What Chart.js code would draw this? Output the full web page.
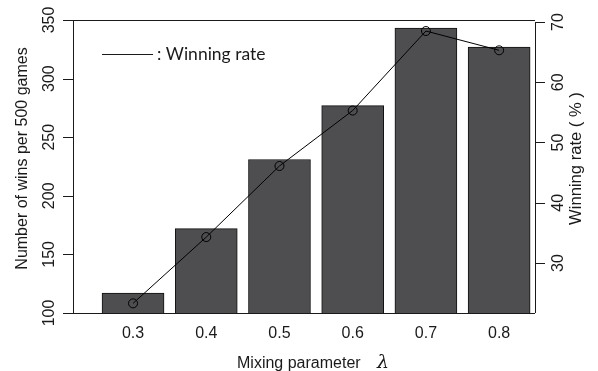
<!DOCTYPE html>
<html>
<head>
<meta charset="utf-8">
<script src="https://cdn.jsdelivr.net/npm/chart.js@4/dist/chart.umd.min.js"></script>
<style>
  html, body { margin: 0; padding: 0; background: #fff; }
  #wrap { width: 598px; height: 371px; }
</style>
</head>
<body>
<div id="wrap"><canvas id="chart" width="598" height="371"></canvas></div>
<script>
// valores
const lambdas = [0.3, 0.4, 0.5, 0.6, 0.7, 0.8];
const wins = [117, 172, 231, 277, 343, 327];
const winRate = [23.3, 34.3, 46.1, 55.3, 68.5, 65.3];
const leftTicks = [100, 150, 200, 250, 300, 350];
const rightTicks = [30, 40, 50, 60, 70];

const tickFont = '16px "Liberation Sans", Arial, sans-serif';
const ink = '#1a1a1a';

// eixos no estilo do R, desenhados a partir das escalas
const axesPlugin = {
  id: 'rAxes',
  afterDatasetsDraw(chart) {
    const { ctx, chartArea: a, scales } = chart;
    const x = scales.x, y = scales.y, y2 = scales.y2;
    ctx.save();
    ctx.strokeStyle = ink;
    ctx.lineWidth = 1;
    ctx.beginPath();
    // linha de cima e de baixo
    ctx.moveTo(a.left - 10, a.top + 0.5); ctx.lineTo(a.right, a.top + 0.5);
    ctx.moveTo(a.left - 10, a.bottom + 0.5); ctx.lineTo(a.right, a.bottom + 0.5);
    // eixo esquerdo
    ctx.moveTo(a.left + 0.5, a.top); ctx.lineTo(a.left + 0.5, a.bottom);
    leftTicks.forEach(v => {
      const py = Math.round(y.getPixelForValue(v)) + 0.5;
      ctx.moveTo(a.left - 10, py); ctx.lineTo(a.left, py);
    });
    // eixo direito
    const top2 = y2.getPixelForValue(rightTicks[rightTicks.length - 1]);
    ctx.moveTo(a.right + 0.5, top2); ctx.lineTo(a.right + 0.5, a.bottom);
    rightTicks.forEach(v => {
      const py = Math.round(y2.getPixelForValue(v)) + 0.5;
      ctx.moveTo(a.right, py); ctx.lineTo(a.right + 10, py);
    });
    ctx.stroke();

    ctx.fillStyle = ink;
    ctx.font = tickFont;
    ctx.textAlign = 'center';
    ctx.textBaseline = 'middle';
    // rotulos do eixo x
    lambdas.forEach(v => {
      ctx.fillText(v.toFixed(1), x.getPixelForValue(v), a.bottom + 21);
    });
    ctx.textAlign = 'left';
    ctx.fillText('Mixing parameter', a.left + 164, a.bottom + 51);
    ctx.font = 'italic 19px "DejaVu Serif", serif';
    ctx.fillText('\u03bb', a.left + 304, a.bottom + 50);
    ctx.font = tickFont;
    ctx.textAlign = 'center';

    // rotulos verticais
    const rot = (txt, px, py) => {
      ctx.save();
      ctx.translate(px, py);
      ctx.rotate(-Math.PI / 2);
      ctx.fillText(txt, 0, 0);
      ctx.restore();
    };
    leftTicks.forEach(v => rot(String(v), a.left - 23, y.getPixelForValue(v)));
    rightTicks.forEach(v => rot(String(v), a.right + 24, y2.getPixelForValue(v)));
    rot('Number of wins per 500 games', a.left - 50, (a.top + a.bottom) / 2 - 8);
    ctx.font = '16.6px "Liberation Sans", Arial, sans-serif';
    rot('Winning rate ( % )', a.right + 41, (a.top + a.bottom) / 2 - 8);

    // legenda
    const ly = a.top + 34.5;
    ctx.beginPath();
    ctx.moveTo(a.left + 29, ly); ctx.lineTo(a.left + 80, ly);
    ctx.stroke();
    ctx.textAlign = 'left';
    ctx.font = '17.5px Lato, "Open Sans", sans-serif';
    ctx.fillText(': Winning rate', a.left + 84, ly);
    ctx.restore();
  }
};

new Chart(document.getElementById('chart'), {
  type: 'bar',
  data: {
    datasets: [
      {
        type: 'line',
        label: 'Winning rate',
        data: lambdas.map((l, i) => ({ x: l, y: winRate[i] })),
        yAxisID: 'y2',
        borderColor: '#000',
        borderWidth: 1,
        pointRadius: 4.5,
        pointBorderWidth: 1,
        pointBackgroundColor: 'rgba(0,0,0,0)',
        pointBorderColor: '#000',
        tension: 0,
        order: 1
      },
      {
        label: 'Wins',
        data: lambdas.map((l, i) => ({ x: l, y: wins[i] })),
        yAxisID: 'y',
        backgroundColor: '#4e4e50',
        borderColor: '#111',
        borderWidth: 1,
        borderSkipped: false,
        barThickness: 62,
        order: 2
      }
    ]
  },
  options: {
    responsive: false,
    animation: false,
    devicePixelRatio: 1,
    layout: { padding: { left: 73, right: 63, top: 20, bottom: 58 } },
    plugins: { legend: { display: false }, tooltip: { enabled: false } },
    scales: {
      x: { type: 'linear', min: 0.218, max: 0.849, offset: false, display: false },
      y: { type: 'linear', min: 100, max: 350, beginAtZero: false, display: false },
      y2: { type: 'linear', position: 'right', min: 21.7, max: 70.33, beginAtZero: false, display: false }
    }
  },
  plugins: [axesPlugin]
});
</script>
</body>
</html>
